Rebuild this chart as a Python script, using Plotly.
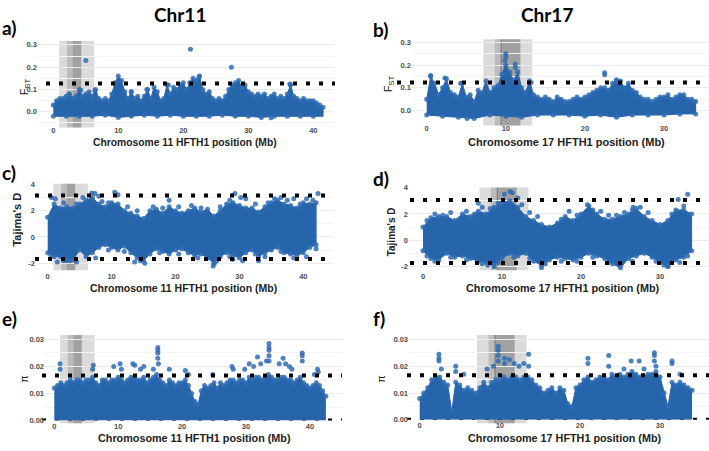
import plotly.graph_objects as go

W, H = 709, 451

# ---------------- data ----------------
FINE = 0.5      # Mb between edge readings (F_ST, pi)
COARSE = 1.0    # Mb between edge readings (Tajima's D)
LOW_STEP = 2.0  # Mb between lower-edge readings (F_ST)

chr11_fst_upper = [0.03, 0.05, 0.06, 0.06, 0.07, 0.08, 0.06, 0.07, 0.10, 0.07,
                   0.08, 0.09, 0.07, 0.10, 0.06, 0.05, 0.06, 0.05, 0.08, 0.13,
                   0.16, 0.14, 0.09, 0.06, 0.09, 0.06, 0.07, 0.05, 0.07, 0.10,
                   0.06, 0.11, 0.09, 0.05, 0.06, 0.12, 0.08, 0.11, 0.10, 0.12,
                   0.13, 0.10, 0.13, 0.15, 0.14, 0.16, 0.10, 0.08, 0.09, 0.06,
                   0.05, 0.06, 0.05, 0.07, 0.10, 0.12, 0.13, 0.14, 0.11, 0.12,
                   0.09, 0.08, 0.07, 0.08, 0.07, 0.08, 0.06, 0.07, 0.08, 0.06,
                   0.07, 0.06, 0.08, 0.12, 0.07, 0.06, 0.05, 0.06, 0.05, 0.05,
                   0.05, 0.04, 0.03, 0.02]
chr11_fst_lower = [-0.02, -0.02, -0.02, -0.02, -0.015, -0.025, -0.02, -0.015, -0.02, -0.015,
                   -0.02, -0.02, -0.02, -0.015, -0.02, -0.02, -0.025, -0.02, -0.02, -0.02,
                   -0.02]
chr11_fst_sparse_x = [5.0, 21.1, 27.4, 22.4, 36.4, 33.5, 6.4, 4.2, 2.4, 12.0, 14.4, 17.7]
chr11_fst_sparse_y = [0.23, 0.28, 0.20, 0.155, 0.125, -0.027, 0.095, 0.098, 0.08, 0.09, 0.10, 0.12]

chr17_fst_upper = [0.05, 0.15, 0.12, 0.07, 0.10, 0.14, 0.08, 0.07, 0.06, 0.12,
                   0.06, 0.07, 0.04, 0.09, 0.08, 0.13, 0.08, 0.10, 0.11, 0.16,
                   0.20, 0.17, 0.13, 0.17, 0.10, 0.08, 0.13, 0.07, 0.06, 0.05,
                   0.06, 0.05, 0.04, 0.06, 0.05, 0.04, 0.04, 0.05, 0.06, 0.05,
                   0.06, 0.07, 0.08, 0.09, 0.10, 0.10, 0.09, 0.12, 0.13, 0.13,
                   0.10, 0.12, 0.09, 0.08, 0.06, 0.05, 0.05, 0.04, 0.05, 0.06,
                   0.06, 0.07, 0.05, 0.06, 0.07, 0.07, 0.05, 0.05, 0.04]
chr17_fst_lower = [-0.02, -0.025, -0.03, -0.035, -0.02, -0.025, -0.03, -0.02, -0.02,
                   -0.02, -0.025, -0.02, -0.03, -0.02, -0.02, -0.02, -0.015, -0.015]
chr17_fst_sparse_x = [10.0, 10.0, 9.9, 11.2, 11.2, 22.5, 22.5, 5.1, 0.5, 2.3, 4.3, 13.2, 24.0]
chr17_fst_sparse_y = [0.25, 0.235, 0.22, 0.205, 0.19, 0.167, 0.158, -0.035, 0.155, 0.144, 0.12, 0.124, 0.136]

chr11_taj_upper = [1.5, 2.5, 2.2, 2.3, 2.2, 2.5, 2.8, 3.0, 2.5, 2.3,
                   2.6, 2.5, 2.0, 1.8, 1.6, 1.4, 2.0, 2.1, 1.8, 2.3,
                   2.0, 1.8, 2.0, 2.2, 1.9, 2.1, 1.6, 2.0, 2.5, 2.6,
                   2.4, 2.2, 2.2, 1.9, 2.3, 2.6, 2.8, 2.5, 2.4, 2.2,
                   2.6, 2.5, 2.6]
chr11_taj_lower = [-1.2, -1.5, -1.5, -1.8, -1.7, -1.0, -1.5, -1.2, -0.8, -0.6,
                   -0.8, -1.0, -0.7, -1.2, -1.6, -1.8, -1.3, -0.9, -1.1, -1.3,
                   -1.0, -0.9, -1.2, -1.4, -1.3, -1.6, -2.0, -1.5, -1.2, -1.4,
                   -1.6, -1.2, -1.0, -1.5, -1.2, -1.0, -0.8, -1.2, -1.3, -1.4,
                   -1.2, -0.8, -0.6]
chr11_taj_sparse_x = [0.6, 1.2, 5.5, 6.9, 7.4, 8.0, 10.5, 11.0, 19.0, 29.3, 30.2, 31.0, 36.5,
                      38.5, 42.3, 1.5, 3.5, 7.5, 13.6, 15.2, 25.9, 26.1, 29.0, 33.0,
                      2.5, 4.5, 8.5, 9.5, 12.5, 14.0, 16.5, 18.0, 20.5, 22.5, 24.0, 27.0,
                      28.5, 32.5, 34.5, 35.5, 37.5, 39.5, 40.5, 41.5,
                      0.5, 2.5, 4.5, 9.5, 12.0, 14.5, 17.5, 20.5, 23.5, 26.5, 28.5, 30.5,
                      32.5, 34.0, 36.5, 38.5, 40.5, 42.0]
chr11_taj_sparse_y = [3.0, 2.9, 3.0, 3.35, 3.3, 3.1, 3.4, 3.2, 2.8, 3.3, 3.0, 2.9, 3.0,
                      2.9, 3.3, -1.9, -1.8, -1.6, -1.9, -2.0, -2.2, -2.0, -1.7, -1.8,
                      2.6, 2.5, 2.7, 2.6, 2.3, 2.0, 2.3, 2.2, 2.3, 2.4, 2.2, 2.3,
                      2.8, 2.5, 2.6, 2.9, 2.8, 2.5, 2.9, 2.8,
                      -1.4, -1.8, -1.9, -1.0, -1.1, -1.8, -1.2, -1.3, -1.6, -1.8, -1.5, -1.8,
                      -1.3, -1.5, -1.1, -1.6, -1.5, -0.9]

chr17_taj_upper = [1.0, 1.7, 1.8, 1.8, 1.5, 2.0, 1.8, 2.2, 2.0, 2.5,
                   2.8, 3.0, 2.5, 1.8, 1.5, 1.2, 1.0, 1.3, 1.8, 1.5,
                   2.0, 2.6, 2.0, 1.6, 1.6, 1.8, 2.0, 2.4, 1.8, 1.5,
                   1.2, 1.5, 2.3, 2.3, 2.0]
chr17_taj_lower = [-0.8, -1.4, -1.5, -1.0, -1.3, -1.2, -1.4, -1.6, -1.7, -1.9,
                   -1.4, -1.0, -1.2, -1.0, -1.6, -1.9, -1.5, -1.3, -1.4, -1.5,
                   -1.3, -1.0, -1.2, -1.4, -1.8, -2.1, -1.4, -1.2, -1.0, -1.3,
                   -1.7, -2.0, -1.5, -1.3, -0.8]
chr17_taj_sparse_x = [10.3, 11.0, 11.3, 9.5, 7.0, 12.0, 33.5, 32.3, 20.8, 26.6,
                      25.0, 25.0, 9.0, 15.0, 31.0, 8.2,
                      0.5, 1.5, 2.5, 3.5, 5.5, 6.5, 7.5, 8.5, 12.5, 13.5, 14.5, 17.5,
                      18.5, 19.5, 21.5, 22.5, 23.5, 24.5, 25.5, 26.5, 27.5, 28.5, 31.5, 33.0,
                      0.5, 1.5, 3.5, 5.5, 7.5, 9.5, 11.5, 13.5, 15.5, 17.5, 19.5, 21.5,
                      23.5, 26.5, 29.5, 30.5, 32.5, 33.5]
chr17_taj_sparse_y = [3.5, 3.7, 3.6, 2.8, 2.8, 3.2, 3.5, 3.1, 2.7, 2.5,
                      -2.5, -2.3, -2.0, -2.1, -2.0, -1.9,
                      1.5, 2.0, 1.9, 2.1, 2.2, 2.0, 2.5, 2.4, 2.7, 2.1, 1.8, 1.6,
                      2.2, 1.9, 2.3, 2.2, 1.9, 1.9, 2.1, 2.3, 2.5, 2.1, 2.0, 2.6,
                      -1.2, -1.6, -1.3, -1.5, -1.8, -1.7, -1.3, -1.4, -1.8, -1.6, -1.6, -1.3,
                      -1.7, -1.6, -1.6, -1.9, -1.7, -1.2]

chr11_pi_upper = [0.012, 0.013, 0.014, 0.013, 0.014, 0.015, 0.014, 0.015, 0.015, 0.014,
                  0.015, 0.015, 0.016, 0.014, 0.013, 0.015, 0.015, 0.014, 0.015, 0.015,
                  0.016, 0.015, 0.014, 0.015, 0.016, 0.016, 0.015, 0.015, 0.016, 0.014,
                  0.015, 0.016, 0.017, 0.015, 0.014, 0.013, 0.015, 0.014, 0.013, 0.014,
                  0.014, 0.015, 0.013, 0.010, 0.007, 0.006, 0.011, 0.013, 0.012, 0.013,
                  0.014, 0.012, 0.014, 0.013, 0.014, 0.015, 0.015, 0.014, 0.015, 0.015,
                  0.014, 0.016, 0.015, 0.016, 0.016, 0.015, 0.016, 0.017, 0.016, 0.015,
                  0.015, 0.016, 0.016, 0.015, 0.015, 0.014, 0.015, 0.016, 0.014, 0.013,
                  0.012, 0.013, 0.014, 0.013, 0.011, 0.009]
chr11_pi_sparse_x = [0.9, 0.9, 6.1, 6.0, 9.3, 10.3, 10.5, 12.3, 12.6, 13.5, 14.0, 15.5,
                     16.2, 16.2, 16.2, 16.2, 16.3, 18.0, 20.5, 21.0, 24.8, 27.8, 28.0,
                     29.8, 30.5, 31.2, 31.8, 32.3, 33.2, 33.6, 33.6, 33.6, 33.6, 33.6,
                     35.2, 35.8, 36.2, 36.8, 37.2, 38.8, 38.8, 38.8, 40.7, 41.2, 41.3]
chr11_pi_sparse_y = [0.021, 0.019, 0.0205, 0.019, 0.020, 0.021, 0.019, 0.021, 0.0205, 0.019,
                     0.020, 0.019, 0.027, 0.026, 0.025, 0.023, 0.021, 0.019, 0.0185, 0.017,
                     0.017, 0.020, 0.019, 0.019, 0.021, 0.020, 0.0235, 0.021, 0.022, 0.0285,
                     0.027, 0.026, 0.024, 0.022, 0.021, 0.023, 0.021, 0.020, 0.019, 0.025,
                     0.024, 0.022, 0.017, 0.019, 0.018]

chr17_pi_upper = [0.008, 0.010, 0.012, 0.015, 0.016, 0.016, 0.014, 0.013, 0.003, 0.014,
                  0.013, 0.011, 0.012, 0.011, 0.010, 0.012, 0.014, 0.012, 0.014, 0.015,
                  0.015, 0.016, 0.015, 0.016, 0.016, 0.015, 0.016, 0.016, 0.015, 0.013,
                  0.012, 0.010, 0.011, 0.012, 0.010, 0.012, 0.011, 0.006, 0.005, 0.012,
                  0.013, 0.015, 0.016, 0.014, 0.015, 0.016, 0.016, 0.015, 0.017, 0.016,
                  0.017, 0.016, 0.017, 0.018, 0.017, 0.016, 0.016, 0.017, 0.017, 0.018,
                  0.016, 0.010, 0.005, 0.014, 0.013, 0.014, 0.013, 0.012, 0.011]
chr17_pi_sparse_x = [2.4, 2.4, 2.4, 2.7, 4.5, 4.5, 5.5, 8.4, 9.2, 9.8, 9.8, 9.8, 9.8,
                     10.6, 10.6, 11.2, 11.8, 12.4, 13.0, 13.6, 13.6, 21.0, 21.0, 23.6,
                     23.6, 25.5, 26.4, 27.4, 28.0, 29.3, 29.3, 29.3, 29.5, 31.5, 31.5, 32.5]
chr17_pi_sparse_y = [0.0245, 0.023, 0.022, 0.019, 0.020, 0.018, 0.017, 0.019, 0.020, 0.0275,
                     0.026, 0.024, 0.022, 0.023, 0.021, 0.0225, 0.021, 0.020, 0.021, 0.0245,
                     0.020, 0.023, 0.021, 0.024, 0.020, 0.019, 0.022, 0.022, 0.019, 0.025,
                     0.024, 0.022, 0.020, 0.022, 0.021, 0.017]

# thresholds (dotted lines)
chr11_fst_thr = [0.127]
chr17_fst_thr = [0.124]
chr11_taj_thr = [3.16, -1.68]
chr17_taj_thr = [3.06, -1.74]
chr11_pi_thr = [0.0167, 0.0]
chr17_pi_thr = [0.0166, 0.0]

# highlighted candidate regions (Mb)
chr11_regions = [(0.9, 6.3), (2.1, 4.3), (3.0, 4.3)]
chr17_regions = [(7.15, 13.35), (8.6, 11.85), (9.4, 11.85)]

# tick labels
chr11_xticks = [0, 10, 20, 30, 40]
chr17_xticks = [0, 10, 20, 30]
fst_ticks, fst_labels = [0, 0.1, 0.2, 0.3], ["0.0", "0.1", "0.2", "0.3"]
taj_ticks, taj_labels = [-2, 0, 2, 4], ["-2", "0", "2", "4"]
pi_ticks, pi_labels = [0, 0.01, 0.02, 0.03], ["0.00", "0.01", "0.02", "0.03"]

# ---------------- layout helpers ----------------
def grid(n, step):
    return [round(i * step, 3) for i in range(n)]

BLUE_FILL = "rgb(38,100,172)"
BLUE_PT = "rgba(46,108,180,0.85)"
GRID = "#ebebeb"
TICKFONT = dict(family="Liberation Sans, Arial", size=7.5, color="#4d4d4d", weight="bold")

# box = (left, right, top, bottom) of plot area in px; shade = (top, bottom) of shaded bands in px
panels = [
    dict(n=1, upper=chr11_fst_upper, ustep=FINE, lower=chr11_fst_lower, lstep=LOW_STEP,
         sx=chr11_fst_sparse_x, sy=chr11_fst_sparse_y, thr=chr11_fst_thr, regions=chr11_regions,
         xt=chr11_xticks, yt=fst_ticks, yl=fst_labels, minor=0.05,
         box=(38, 334, 37.7, 123), shade=(37.7, 126), xmap=(53.3, 6.5), ymap=(110, 227.7), dots=(46, 335),
         chr="11", tsz=10.3, tpos=(185, 141), ytitle="F<sub>ST</sub>", ypos=(25, 85), ysz=11, ybold=False),
    dict(n=2, upper=chr17_fst_upper, ustep=FINE, lower=chr17_fst_lower, lstep=LOW_STEP,
         sx=chr17_fst_sparse_x, sy=chr17_fst_sparse_y, thr=chr17_fst_thr, regions=chr17_regions,
         xt=chr17_xticks, yt=fst_ticks, yl=fst_labels, minor=0.05,
         box=(412, 709, 36, 121), shade=(36, 124), xmap=(426.7, 7.91), ymap=(108.7, 231.3), dots=(397, 709),
         chr="17", tsz=11, tpos=(566, 141), ytitle="F<sub>ST</sub>", ypos=(389, 82), ysz=11, ybold=False),
    dict(n=3, upper=chr11_taj_upper, ustep=COARSE, lower=chr11_taj_lower, lstep=COARSE,
         sx=chr11_taj_sparse_x, sy=chr11_taj_sparse_y, thr=chr11_taj_thr, regions=chr11_regions,
         xt=chr11_xticks, yt=taj_ticks, yl=taj_labels, minor=1,
         box=(36, 333, 183.3, 271.7), shade=(183.3, 271.7), xmap=(47.7, 6.39), ymap=(237.7, 13.42), dots=(35, 331),
         chr="11", tsz=10.5, tpos=(183, 290), ytitle="Tajima's D", ypos=(17, 220), ysz=11, ybold=True),
    dict(n=4, upper=chr17_taj_upper, ustep=COARSE, lower=chr17_taj_lower, lstep=COARSE,
         sx=chr17_taj_sparse_x, sy=chr17_taj_sparse_y, thr=chr17_taj_thr, regions=chr17_regions,
         xt=chr17_xticks, yt=taj_ticks, yl=taj_labels, minor=1,
         box=(409, 709, 187.3, 271.7), shade=(187.3, 271.7), xmap=(423, 7.9), ymap=(241, 13.42), dots=(410, 709),
         chr="17", tsz=10.8, tpos=(563, 290), ytitle="Tajima's D", ypos=(391, 233), ysz=10, ybold=True),
    dict(n=5, upper=chr11_pi_upper, ustep=FINE, lower=None, lstep=None,
         sx=chr11_pi_sparse_x, sy=chr11_pi_sparse_y, thr=chr11_pi_thr, regions=chr11_regions,
         xt=chr11_xticks, yt=pi_ticks, yl=pi_labels, minor=0.005,
         box=(45, 343, 337.7, 425), shade=(337.7, 427.7), xmap=(54.3, 6.39), ymap=(425, 2757), dots=(42, 342),
         chr="11", tsz=10.8, tpos=(194, 443), ytitle="π", ypos=(24.5, 383), ysz=11, ybold=False),
    dict(n=6, upper=chr17_pi_upper, ustep=FINE, lower=None, lstep=None,
         sx=chr17_pi_sparse_x, sy=chr17_pi_sparse_y, thr=chr17_pi_thr, regions=chr17_regions,
         xt=chr17_xticks, yt=pi_ticks, yl=pi_labels, minor=0.005,
         box=(409, 709, 337.7, 424.3), shade=(337.7, 427.7), xmap=(419.7, 8.01), ymap=(424.3, 2733), dots=(407, 709),
         chr="17", tsz=10.8, tpos=(565, 443), ytitle="π", ypos=(381.5, 383), ysz=11, ybold=False),
]

fig = go.Figure()
shapes, annotations = [], []
layout = {}

for p in panels:
    n = p["n"]
    xr = "x" if n == 1 else f"x{n}"
    yr = "y" if n == 1 else f"y{n}"
    l, r, t, b = p["box"]
    x0, xs = p["xmap"]
    y0, ys = p["ymap"]
    layout["xaxis" if n == 1 else f"xaxis{n}"] = dict(
        domain=[l / W, r / W], range=[(l - x0) / xs, (r - x0) / xs], anchor=yr,
        tickvals=p["xt"], ticktext=[str(v) for v in p["xt"]], showgrid=False, zeroline=False,
        showline=False, ticks="", tickfont=TICKFONT, fixedrange=True)
    layout["yaxis" if n == 1 else f"yaxis{n}"] = dict(
        domain=[1 - b / H, 1 - t / H], range=[(y0 - b) / ys, (y0 - t) / ys], anchor=xr,
        tickvals=p["yt"], ticktext=p["yl"], showgrid=True, gridcolor=GRID, gridwidth=1,
        minor=dict(showgrid=True, gridcolor="#f4f4f4", gridwidth=0.8, dtick=p["minor"], tick0=0),
        zeroline=False, showline=False, ticks="", tickfont=TICKFONT, fixedrange=True)

    # highlighted regions (vertical extent in paper px)
    st, sb = p["shade"]
    for (a0, a1) in p["regions"]:
        shapes.append(dict(type="rect", xref=xr, yref="paper", x0=a0, x1=a1, y0=1 - sb / H, y1=1 - st / H,
                           fillcolor="rgba(0,0,0,0.14)", line=dict(width=0), layer="below"))
    if p["chr"] == "17":
        m = p["regions"][2][0]
        shapes.append(dict(type="line", xref=xr, yref="paper", x0=m, x1=m, y0=1 - sb / H, y1=1 - st / H,
                           line=dict(color="rgba(0,0,0,0.22)", width=1.5), layer="below"))

    ux = grid(len(p["upper"]), p["ustep"])
    if p["lower"] is not None:
        lx = grid(len(p["lower"]), p["lstep"])
        px_ = ux + [ux[-1]] + lx[::-1]
        py_ = p["upper"] + [p["lower"][-1]] + p["lower"][::-1]
        fig.add_trace(go.Scatter(x=px_, y=py_, fill="toself", fillcolor=BLUE_FILL, mode="lines",
                                 line=dict(color=BLUE_FILL, width=1), xaxis=xr, yaxis=yr,
                                 hoverinfo="skip", showlegend=False))
        ex = ux + lx
        ey = p["upper"] + p["lower"]
    else:
        fig.add_trace(go.Scatter(x=ux, y=p["upper"], fill="tozeroy", fillcolor=BLUE_FILL, mode="lines",
                                 line=dict(color=BLUE_FILL, width=1), xaxis=xr, yaxis=yr,
                                 hoverinfo="skip", showlegend=False))
        ex = ux
        ey = p["upper"]
    fig.add_trace(go.Scatter(x=ex + p["sx"], y=ey + p["sy"], mode="markers",
                             marker=dict(size=5, color=BLUE_PT, line=dict(width=0)),
                             xaxis=xr, yaxis=yr, cliponaxis=False, hoverinfo="skip", showlegend=False))

    # dotted threshold lines
    d0, d1 = p["dots"]
    for k, v in enumerate(p["thr"]):
        below = (k == 1 and p["lower"] is None)
        shapes.append(dict(type="line", xref="paper", yref=yr, x0=d0 / W, x1=d1 / W, y0=v, y1=v,
                           line=dict(color="black", width=4, dash="4px,9px"),
                           layer="below" if below else "above"))

    # axis titles
    annotations.append(dict(text=f"<b>Chromosome {p['chr']} HFTH1 position (Mb)</b>", xref="paper", yref="paper",
                            x=p["tpos"][0] / W, y=1 - p["tpos"][1] / H, showarrow=False,
                            xanchor="center", yanchor="middle",
                            font=dict(family="Liberation Sans, Arial", size=p["tsz"], color="#222")))
    yt = f"<b>{p['ytitle']}</b>" if p["ybold"] else p["ytitle"]
    annotations.append(dict(text=yt, xref="paper", yref="paper", x=p["ypos"][0] / W, y=1 - p["ypos"][1] / H,
                            showarrow=False, textangle=-90, xanchor="center", yanchor="middle",
                            font=dict(family="Liberation Sans, Arial", size=p["ysz"], color="#222")))

# panel letters and column titles
letters = [("a)", 0, 24), ("b)", 371, 26), ("c)", 0, 172), ("d)", 371, 178), ("e)", 0, 321), ("f)", 371, 321)]
for txt, lx_, ly_ in letters:
    annotations.append(dict(text=f"<b>{txt}</b>", xref="paper", yref="paper", x=lx_ / W, y=1 - ly_ / H,
                            showarrow=False, xanchor="left", yanchor="middle",
                            font=dict(family="Lato, Open Sans", size=19, color="black")))
for txt, cx, cy in [("Chr11", 180, 11), ("Chr17", 547, 11)]:
    annotations.append(dict(text=f"<b>{txt}</b>", xref="paper", yref="paper", x=cx / W, y=1 - cy / H,
                            showarrow=False, xanchor="center", yanchor="middle",
                            font=dict(family="Lato, Open Sans", size=19, color="black")))

fig.update_layout(width=W, height=H, margin=dict(l=0, r=0, t=0, b=0), paper_bgcolor="white",
                  plot_bgcolor="white", showlegend=False, shapes=shapes, annotations=annotations, **layout)
fig.write_html("out.html")
